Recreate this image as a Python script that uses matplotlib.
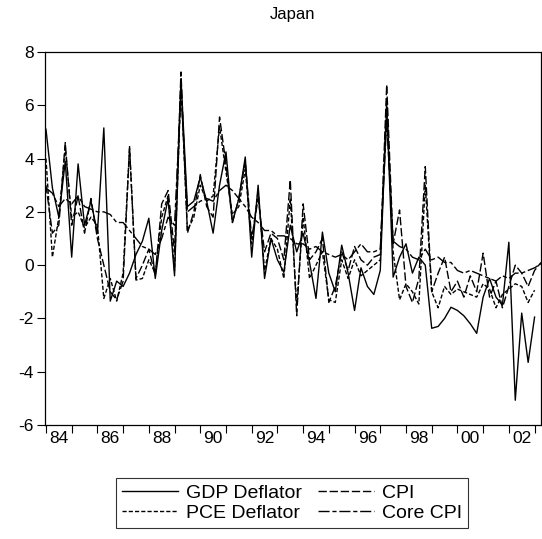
import numpy as np
import matplotlib.pyplot as plt

plt.rcParams['font.family'] = ['Liberation Sans', 'DejaVu Sans']

# quarterly observations, 1984Q1 .. 2003Q2
start_year = 1984
n_obs = 78

gdp_deflator = [
    5.1, 2.9, 1.8, 3.9, 0.3, 3.8, 1.5, 2.4, 1.2, 5.15,
    -1.35, -0.6, -0.8, -0.3, 0.4, 0.9, 1.76, -0.5, 1.3, 2.5,
    -0.4, 7.0, 2.2, 2.4, 3.3, 2.4, 1.2, 3.0, 4.25, 1.6,
    2.5, 4.06, 0.3, 3.0, -0.5, 1.0, 0.2, -0.27, 1.5, 0.5,
    1.2, 0.1, -1.25, 1.24, -0.3, -1.0, 0.75, -0.3, -1.7, -0.1,
    -0.8, -1.1, -0.2, 6.0, -0.45, 0.3, 0.8, -0.3, 0.3, 0.0,
    -2.37, -2.3, -2.0, -1.58, -1.7, -1.9, -2.2, -2.56, -1.2, -0.5,
    -1.2, -1.5, 0.86, -5.07, -1.8, -3.65, -1.95, np.nan,
]
cpi = [
    3.0, 1.2, 1.5, 4.6, 1.5, 2.6, 1.2, 2.5, 1.0, 0.0,
    -1.0, -1.3, -0.6, 4.4, -0.5, 0.0, 0.6, -0.4, 2.3, 2.8,
    0.5, 7.25, 1.2, 2.0, 3.4, 2.2, 1.8, 5.56, 3.8, 1.6,
    2.5, 3.9, 1.0, 2.5, 0.5, 1.2, 1.0, 0.2, 3.2, -1.9,
    2.3, 0.2, 0.5, 1.0, -1.4, -0.8, 0.5, -0.2, 0.7, 0.2,
    0.0, 0.3, 0.4, 6.77, 0.8, 2.07, -0.8, -1.4, -0.5, 3.7,
    -1.0, -0.3, 0.3, -1.0, -0.6, -1.2, -0.4, -1.0, 0.45, -1.2,
    -0.6, -1.6, -0.8, 0.0, -0.3, -0.8, -0.2, 0.1,
]
pce_deflator = [
    4.0, 0.3, 1.8, 4.4, 1.8, 2.0, 1.4, 1.8, 1.5, -1.25,
    -0.5, -1.35, -0.3, 4.45, -0.56, -0.5, 0.2, -0.3, 1.8, 2.6,
    -0.2, 6.9, 1.3, 1.8, 3.0, 2.4, 2.6, 5.2, 3.5, 1.9,
    2.2, 3.6, 0.8, 2.8, -0.2, 1.0, 0.6, -0.5, 2.5, -1.5,
    1.8, -0.5, 0.0, 0.5, -1.3, -1.4, 0.2, -0.5, 0.2, -0.4,
    -0.2, 0.0, 0.2, 6.2, 0.5, -1.3, -0.7, -1.0, -1.46, 3.0,
    -1.0, -1.6, -0.8, -1.1, -0.9, -1.0, -1.1, -1.2, -0.7, -0.9,
    -1.6, -1.1, -0.9, -0.7, -0.8, -1.4, -0.94, np.nan,
]
core_cpi = [
    2.9, 2.7, 2.2, 2.5, 2.3, 2.6, 2.2, 2.1, 2.0, 2.0,
    1.9, 1.6, 1.6, 1.3, 1.0, 0.7, 0.6, 0.4, 1.0, 1.8,
    1.5, 6.5, 2.0, 2.2, 2.4, 2.5, 2.4, 2.8, 3.0, 2.8,
    2.5, 2.2, 1.8, 1.6, 1.3, 1.3, 1.1, 1.1, 1.0, 0.8,
    0.8, 0.6, 0.7, 0.5, 0.4, 0.3, 0.4, 0.2, 0.5, 0.8,
    0.5, 0.5, 0.6, 5.4, 0.9, 0.7, 0.6, 0.3, 0.2, 0.6,
    0.2, 0.3, 0.1, 0.1, -0.2, -0.3, -0.2, -0.3, -0.4, -0.5,
    -0.6, -0.4, -0.5, -0.3, -0.3, -0.2, -0.1, 0.05,
]

year_labels = ["84", "86", "88", "90", "92", "94", "96", "98", "00", "02"]
y_ticks = [-6, -4, -2, 0, 2, 4, 6, 8]

t = np.arange(n_obs)

fig = plt.figure(figsize=(5.42, 5.39), dpi=100)
ax = fig.add_axes([45 / 542, 1 - 425 / 539, 496 / 542, 373 / 539])

l_gdp, = ax.plot(t, gdp_deflator, color="black", lw=1.0, ls="-")
l_cpi, = ax.plot(t, cpi, color="black", lw=1.0, ls=(0, (6, 2)))
l_pce, = ax.plot(t, pce_deflator, color="black", lw=1.0, ls=(0, (3, 1.5)))
l_core, = ax.plot(t, core_cpi, color="black", lw=1.0, ls=(0, (8, 2, 3, 2)))

ax.set_xlim(-0.15, 77)
ax.set_ylim(-6, 8)

ax.set_yticks(y_ticks)
ax.set_yticklabels([str(v) for v in y_ticks])

# year ticks at first quarter, labels mid-year for even years
ax.set_xticks(np.arange(0, n_obs, 4))
ax.set_xticklabels([])
ax.set_xticks(np.arange(0, n_obs, 8) + 2, minor=True)
ax.set_xticklabels(year_labels, minor=True)
ax.tick_params(axis="both", which="both", labelsize=12.5, width=0.8)
ax.tick_params(axis="x", which="minor", length=0, pad=4)
ax.tick_params(axis="x", which="major", length=6, direction="out")
ax.tick_params(axis="y", length=6, direction="out", pad=2)

for s in ax.spines.values():
    s.set_linewidth(0.9)

ax.set_title("Japan", fontsize=12, pad=24)

# matplotlib fills legend column by column
leg = fig.legend([l_gdp, l_pce, l_cpi, l_core],
                 ["GDP Deflator", "PCE Deflator", "CPI", "Core CPI"],
                 loc="center", bbox_to_anchor=(292 / 542, 1 - 503 / 539), ncol=2,
                 fontsize=14, frameon=True, fancybox=False, edgecolor="black",
                 handlelength=2.9, columnspacing=0.8, handletextpad=0.4,
                 labelspacing=0.15, borderpad=0.3)
leg.get_frame().set_linewidth(0.8)

plt.savefig("out.png", dpi=100)
